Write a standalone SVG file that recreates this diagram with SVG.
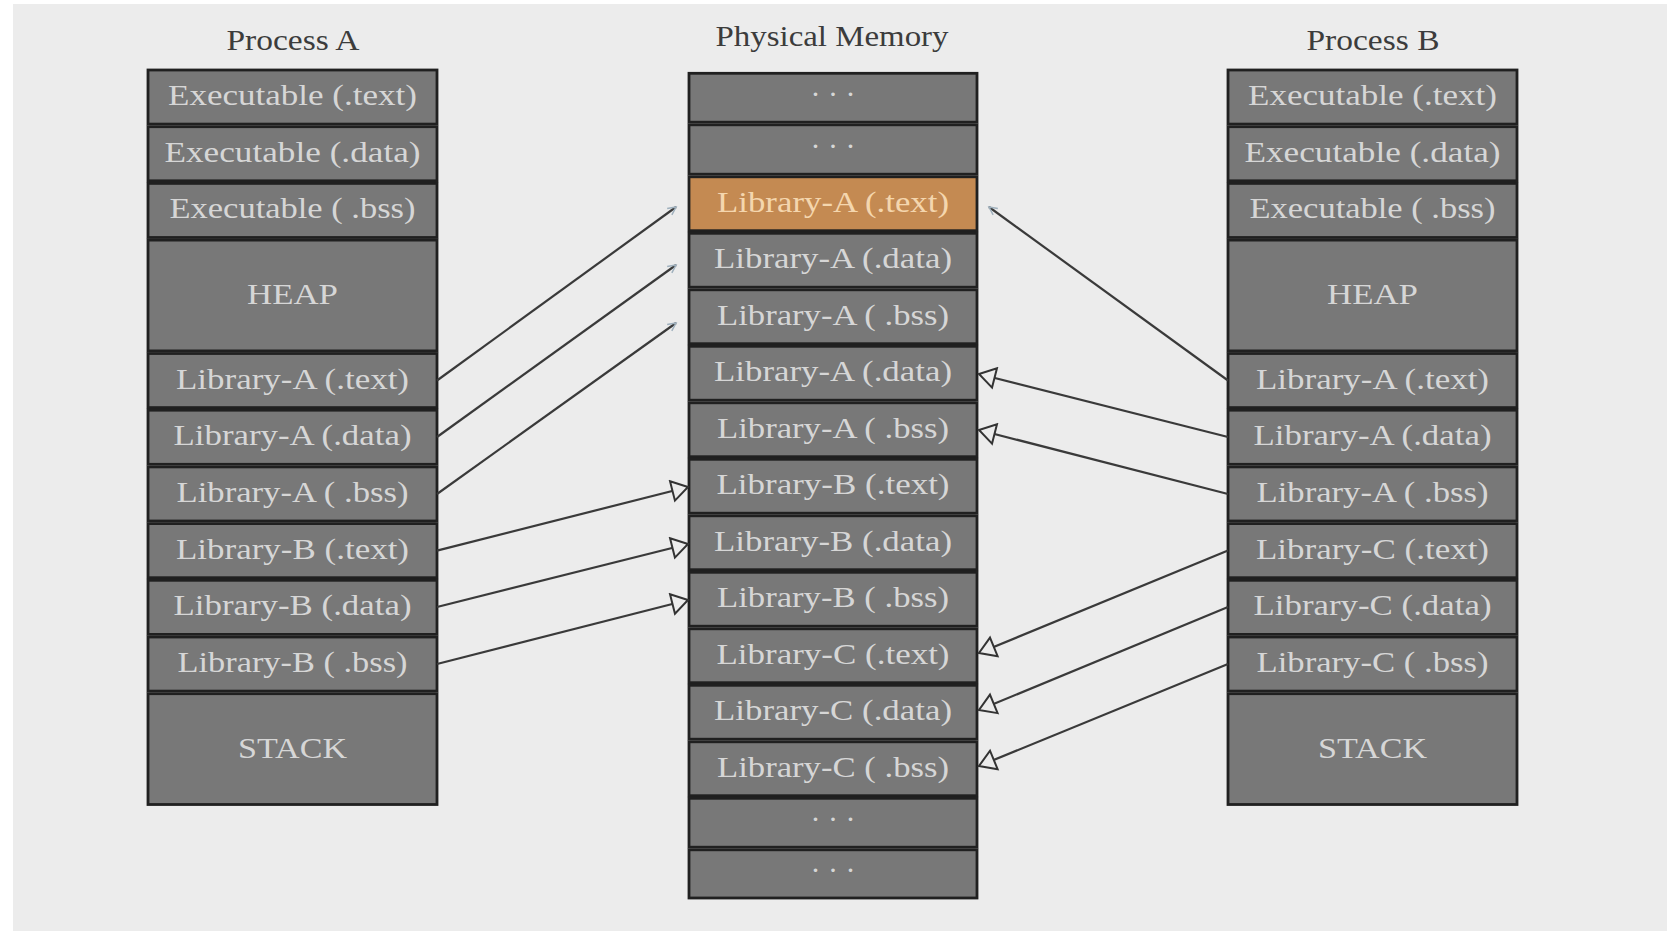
<svg xmlns="http://www.w3.org/2000/svg" width="1675" height="938" viewBox="0 0 1675 938">
<style>
.bg{fill:#ececec}
.box{fill:#787878;stroke:#202020;stroke-width:2.8}
.hl{fill:#c48a52;stroke:#202020;stroke-width:2.8}
.lbl{font-family:"Liberation Serif",serif;font-size:30px;fill:#d6d6d6;text-anchor:middle}
.lblh{font-family:"Liberation Serif",serif;font-size:30px;fill:#f4d6ae;text-anchor:middle}
.title{font-family:"Liberation Serif",serif;font-size:30px;fill:#3c3c3c;text-anchor:middle}
.conn{stroke:#3a3a3a;stroke-width:2.2;fill:none}
</style>
<defs>
<marker id="open" markerUnits="userSpaceOnUse" viewBox="-2 -2 22 24" refX="16" refY="10" markerWidth="22" markerHeight="24" orient="auto">
<path d="M0,0 L16,10 L0,20 Z" fill="#ececec" stroke="#333333" stroke-width="2"/>
</marker>
<marker id="faint" markerUnits="userSpaceOnUse" viewBox="-2 -2 12 12" refX="8" refY="4" markerWidth="12" markerHeight="12" orient="auto">
<path d="M0,0 L8,4 L0,8" fill="none" stroke="#9fb0bd" stroke-width="1.5"/>
</marker>
</defs>
<rect x="0" y="0" width="1675" height="938" fill="#ffffff"/>
<rect class="bg" x="13" y="4" width="1654" height="927"/>

<text class="title" x="293" y="50" textLength="133" lengthAdjust="spacingAndGlyphs">Process A</text>
<text class="title" x="832" y="46" textLength="233" lengthAdjust="spacingAndGlyphs">Physical Memory</text>
<text class="title" x="1373" y="50" textLength="133" lengthAdjust="spacingAndGlyphs">Process B</text>

<g id="processA">
<g id="a-exec-text"><rect class="box" x="148" y="70" width="289" height="54.1"/><text class="lbl" x="292.5" y="105" textLength="249" lengthAdjust="spacingAndGlyphs">Executable (.text)</text></g>
<g id="a-exec-data"><rect class="box" x="148" y="126.7" width="289" height="54.1"/><text class="lbl" x="292.5" y="161.7" textLength="256" lengthAdjust="spacingAndGlyphs">Executable (.data)</text></g>
<g id="a-exec-bss"><rect class="box" x="148" y="183.4" width="289" height="54.1"/><text class="lbl" x="292.5" y="218.4" textLength="246" lengthAdjust="spacingAndGlyphs">Executable ( .bss)</text></g>
<g id="a-heap"><rect class="box" x="148" y="240.1" width="289" height="110.8"/><text class="lbl" x="292.5" y="304" textLength="91" lengthAdjust="spacingAndGlyphs">HEAP</text></g>
<g id="a-liba-text"><rect class="box" x="148" y="353.5" width="289" height="54.1"/><text class="lbl" x="292.5" y="388.5" textLength="233" lengthAdjust="spacingAndGlyphs">Library-A (.text)</text></g>
<g id="a-liba-data"><rect class="box" x="148" y="410.2" width="289" height="54.1"/><text class="lbl" x="292.5" y="445.2" textLength="238" lengthAdjust="spacingAndGlyphs">Library-A (.data)</text></g>
<g id="a-liba-bss"><rect class="box" x="148" y="466.9" width="289" height="54.1"/><text class="lbl" x="292.5" y="501.9" textLength="232" lengthAdjust="spacingAndGlyphs">Library-A ( .bss)</text></g>
<g id="a-libb-text"><rect class="box" x="148" y="523.6" width="289" height="54.1"/><text class="lbl" x="292.5" y="558.6" textLength="233" lengthAdjust="spacingAndGlyphs">Library-B (.text)</text></g>
<g id="a-libb-data"><rect class="box" x="148" y="580.3" width="289" height="54.1"/><text class="lbl" x="292.5" y="615.3" textLength="238" lengthAdjust="spacingAndGlyphs">Library-B (.data)</text></g>
<g id="a-libb-bss"><rect class="box" x="148" y="637" width="289" height="54.1"/><text class="lbl" x="292.5" y="672" textLength="230" lengthAdjust="spacingAndGlyphs">Library-B ( .bss)</text></g>
<g id="a-stack"><rect class="box" x="148" y="693.7" width="289" height="110.8"/><text class="lbl" x="292.5" y="757.5" textLength="109" lengthAdjust="spacingAndGlyphs">STACK</text></g>
</g>

<g id="physical">
<g id="m-dots1"><rect class="box" x="689" y="73.3" width="288" height="48.9"/><text class="lbl" x="833" y="104">· · ·</text></g>
<g id="m-dots2"><rect class="box" x="689" y="124.8" width="288" height="49.4"/><text class="lbl" x="833" y="156">· · ·</text></g>
<g id="m-liba-text"><rect class="hl" x="689" y="176.8" width="288" height="53.9"/><text class="lblh" x="833" y="211.7" textLength="232" lengthAdjust="spacingAndGlyphs">Library-A (.text)</text></g>
<g id="m-liba-data"><rect class="box" x="689" y="233.3" width="288" height="53.9"/><text class="lbl" x="833" y="268.2" textLength="238" lengthAdjust="spacingAndGlyphs">Library-A (.data)</text></g>
<g id="m-liba-bss"><rect class="box" x="689" y="289.8" width="288" height="53.9"/><text class="lbl" x="833" y="324.7" textLength="232" lengthAdjust="spacingAndGlyphs">Library-A ( .bss)</text></g>
<g id="m-liba-data2"><rect class="box" x="689" y="346.3" width="288" height="53.9"/><text class="lbl" x="833" y="381.2" textLength="238" lengthAdjust="spacingAndGlyphs">Library-A (.data)</text></g>
<g id="m-liba-bss2"><rect class="box" x="689" y="402.8" width="288" height="53.9"/><text class="lbl" x="833" y="437.7" textLength="232" lengthAdjust="spacingAndGlyphs">Library-A ( .bss)</text></g>
<g id="m-libb-text"><rect class="box" x="689" y="459.3" width="288" height="53.9"/><text class="lbl" x="833" y="494.2" textLength="233" lengthAdjust="spacingAndGlyphs">Library-B (.text)</text></g>
<g id="m-libb-data"><rect class="box" x="689" y="515.8" width="288" height="53.9"/><text class="lbl" x="833" y="550.7" textLength="238" lengthAdjust="spacingAndGlyphs">Library-B (.data)</text></g>
<g id="m-libb-bss"><rect class="box" x="689" y="572.3" width="288" height="53.9"/><text class="lbl" x="833" y="607.2" textLength="232" lengthAdjust="spacingAndGlyphs">Library-B ( .bss)</text></g>
<g id="m-libc-text"><rect class="box" x="689" y="628.8" width="288" height="53.9"/><text class="lbl" x="833" y="663.7" textLength="233" lengthAdjust="spacingAndGlyphs">Library-C (.text)</text></g>
<g id="m-libc-data"><rect class="box" x="689" y="685.3" width="288" height="53.9"/><text class="lbl" x="833" y="720.2" textLength="238" lengthAdjust="spacingAndGlyphs">Library-C (.data)</text></g>
<g id="m-libc-bss"><rect class="box" x="689" y="741.8" width="288" height="53.9"/><text class="lbl" x="833" y="776.7" textLength="232" lengthAdjust="spacingAndGlyphs">Library-C ( .bss)</text></g>
<g id="m-dots3"><rect class="box" x="689" y="798.3" width="288" height="48.9"/><text class="lbl" x="833" y="829">· · ·</text></g>
<g id="m-dots4"><rect class="box" x="689" y="849.8" width="288" height="48.2"/><text class="lbl" x="833" y="880">· · ·</text></g>
</g>

<g id="processB">
<g id="b-exec-text"><rect class="box" x="1228" y="70" width="289" height="54.1"/><text class="lbl" x="1372.5" y="105" textLength="249" lengthAdjust="spacingAndGlyphs">Executable (.text)</text></g>
<g id="b-exec-data"><rect class="box" x="1228" y="126.7" width="289" height="54.1"/><text class="lbl" x="1372.5" y="161.7" textLength="256" lengthAdjust="spacingAndGlyphs">Executable (.data)</text></g>
<g id="b-exec-bss"><rect class="box" x="1228" y="183.4" width="289" height="54.1"/><text class="lbl" x="1372.5" y="218.4" textLength="246" lengthAdjust="spacingAndGlyphs">Executable ( .bss)</text></g>
<g id="b-heap"><rect class="box" x="1228" y="240.1" width="289" height="110.8"/><text class="lbl" x="1372.5" y="304" textLength="91" lengthAdjust="spacingAndGlyphs">HEAP</text></g>
<g id="b-liba-text"><rect class="box" x="1228" y="353.5" width="289" height="54.1"/><text class="lbl" x="1372.5" y="388.5" textLength="233" lengthAdjust="spacingAndGlyphs">Library-A (.text)</text></g>
<g id="b-liba-data"><rect class="box" x="1228" y="410.2" width="289" height="54.1"/><text class="lbl" x="1372.5" y="445.2" textLength="238" lengthAdjust="spacingAndGlyphs">Library-A (.data)</text></g>
<g id="b-liba-bss"><rect class="box" x="1228" y="466.9" width="289" height="54.1"/><text class="lbl" x="1372.5" y="501.9" textLength="232" lengthAdjust="spacingAndGlyphs">Library-A ( .bss)</text></g>
<g id="b-libc-text"><rect class="box" x="1228" y="523.6" width="289" height="54.1"/><text class="lbl" x="1372.5" y="558.6" textLength="233" lengthAdjust="spacingAndGlyphs">Library-C (.text)</text></g>
<g id="b-libc-data"><rect class="box" x="1228" y="580.3" width="289" height="54.1"/><text class="lbl" x="1372.5" y="615.3" textLength="238" lengthAdjust="spacingAndGlyphs">Library-C (.data)</text></g>
<g id="b-libc-bss"><rect class="box" x="1228" y="637" width="289" height="54.1"/><text class="lbl" x="1372.5" y="672" textLength="232" lengthAdjust="spacingAndGlyphs">Library-C ( .bss)</text></g>
<g id="b-stack"><rect class="box" x="1228" y="693.7" width="289" height="110.8"/><text class="lbl" x="1372.5" y="757.5" textLength="109" lengthAdjust="spacingAndGlyphs">STACK</text></g>
</g>

<g id="connectors">
<line class="conn" x1="437" y1="380.5" x2="676" y2="207" marker-end="url(#faint)"/>
<line class="conn" x1="437" y1="437" x2="676" y2="265" marker-end="url(#faint)"/>
<line class="conn" x1="437" y1="494" x2="676" y2="323" marker-end="url(#faint)"/>
<line class="conn" x1="437" y1="550.6" x2="688" y2="487" marker-end="url(#open)"/>
<line class="conn" x1="437" y1="607" x2="688" y2="544" marker-end="url(#open)"/>
<line class="conn" x1="437" y1="664" x2="688" y2="600" marker-end="url(#open)"/>
<line class="conn" x1="1228" y1="380.5" x2="989" y2="207" marker-end="url(#faint)"/>
<line class="conn" x1="1228" y1="437" x2="979" y2="374" marker-end="url(#open)"/>
<line class="conn" x1="1228" y1="494" x2="979" y2="430" marker-end="url(#open)"/>
<line class="conn" x1="1228" y1="550.6" x2="979" y2="653" marker-end="url(#open)"/>
<line class="conn" x1="1228" y1="607" x2="979" y2="710" marker-end="url(#open)"/>
<line class="conn" x1="1228" y1="664" x2="979" y2="766" marker-end="url(#open)"/>
</g>
</svg>
